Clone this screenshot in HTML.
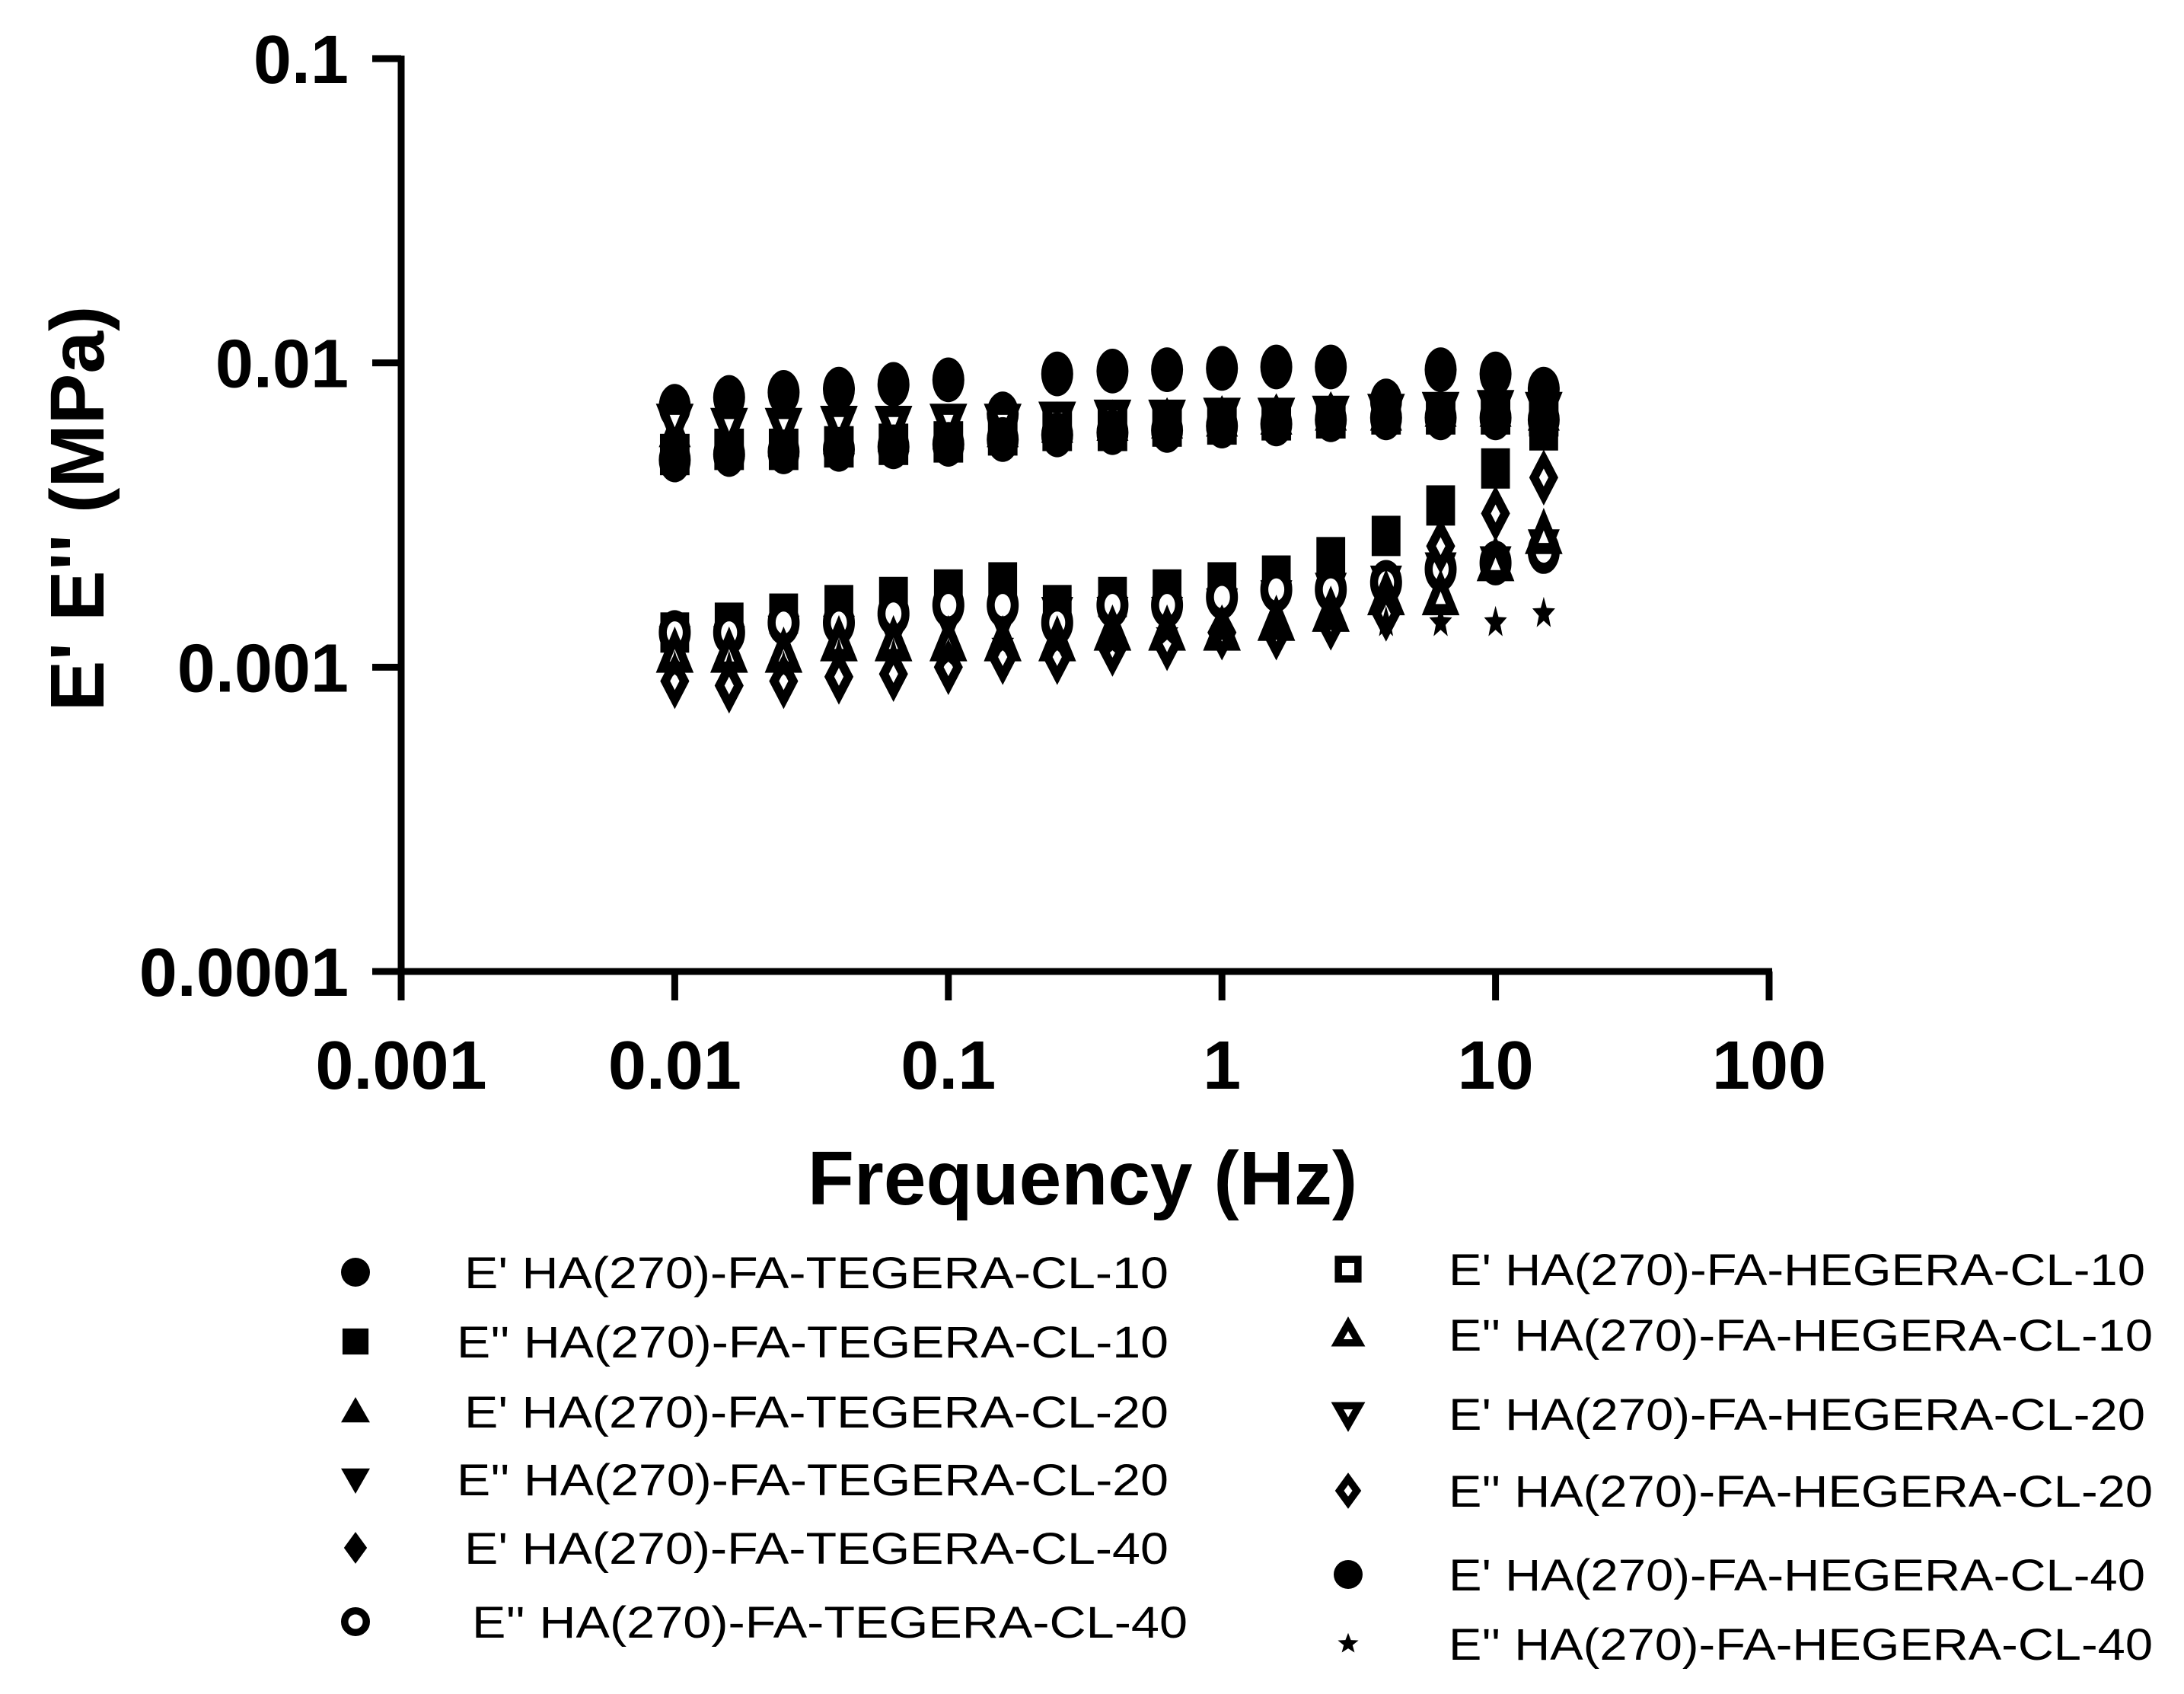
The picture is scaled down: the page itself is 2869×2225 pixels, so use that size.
<!DOCTYPE html>
<html><head><meta charset="utf-8"><style>
html,body{margin:0;padding:0;background:#fff}
svg{display:block;font-family:"Liberation Sans",Arial,sans-serif}
</style></head><body>
<svg id="chart" width="2869" height="2225" viewBox="0 0 2869 2225" xmlns="http://www.w3.org/2000/svg">
<g id="axes"></g>
<g id="marks"></g>
<g id="legend"></g>
</svg>
<script>
const freqs=[0.01,0.0158,0.025,0.0398,0.063,0.1,0.158,0.25,0.398,0.63,1,1.58,2.5,3.98,6.3,10,15];
const seriesNames=["E' HA(270)-FA-TEGERA-CL-10","E'' HA(270)-FA-TEGERA-CL-10","E' HA(270)-FA-TEGERA-CL-20","E'' HA(270)-FA-TEGERA-CL-20","E' HA(270)-FA-TEGERA-CL-40","E''  HA(270)-FA-TEGERA-CL-40","E' HA(270)-FA-HEGERA-CL-10","E'' HA(270)-FA-HEGERA-CL-10","E' HA(270)-FA-HEGERA-CL-20","E'' HA(270)-FA-HEGERA-CL-20","E' HA(270)-FA-HEGERA-CL-40","E'' HA(270)-FA-HEGERA-CL-40"];
const s0=[0.0072,0.0077,0.008,0.0082,0.0085,0.0088,0.0068,0.0092,0.0094,0.0095,0.0096,0.0097,0.0097,0.0075,0.0095,0.0092,0.0082];
const s1=[0.0013,0.0014,0.0015,0.0016,0.0017,0.0018,0.0019,0.0016,0.0017,0.0018,0.0019,0.002,0.0023,0.0027,0.0034,0.0045,0.006];
const s2=[0.006,0.0056,0.0056,0.0057,0.0058,0.0059,0.006,0.0062,0.0063,0.0064,0.0065,0.0066,0.0068,0.0068,0.007,0.007,0.0068];
const s3=[0.0012,0.0012,0.0013,0.0013,0.0013,0.0014,0.0014,0.0015,0.0015,0.0015,0.0016,0.0017,0.0018,0.0019,0.0021,0.0022,0.0025];
const s4=[0.0055,0.0056,0.0057,0.0058,0.0059,0.006,0.006,0.0062,0.0063,0.0064,0.0065,0.0066,0.0067,0.0068,0.0069,0.0069,0.0068];
const s5=[0.0013,0.0013,0.0014,0.0014,0.0015,0.0016,0.0016,0.0014,0.0016,0.0016,0.0017,0.0018,0.0018,0.0019,0.0021,0.0022,0.0024];
const s6=[0.005,0.0052,0.0052,0.0053,0.0054,0.0055,0.0058,0.006,0.006,0.0062,0.0063,0.0065,0.0066,0.0068,0.0068,0.0068,0.0067];
const s7=[0.0011,0.0011,0.0011,0.0012,0.0012,0.0012,0.0012,0.0012,0.0013,0.0013,0.0013,0.0014,0.0015,0.0017,0.0017,0.0022,0.0027];
const s8=[0.0064,0.0062,0.0062,0.0063,0.0063,0.0064,0.0064,0.0065,0.0066,0.0066,0.0067,0.0067,0.0068,0.0069,0.007,0.0071,0.007];
const s9=[0.0009,0.00087,0.0009,0.00093,0.00095,0.001,0.00108,0.00108,0.00115,0.0012,0.0013,0.0013,0.0014,0.0015,0.0025,0.0032,0.0042];
const s10=[0.0048,0.005,0.0051,0.0052,0.0053,0.0054,0.0056,0.0058,0.0059,0.006,0.0062,0.0063,0.0065,0.0066,0.0066,0.0066,0.0065];
const s11=[0.001,0.001,0.001,0.0011,0.0011,0.0011,0.0012,0.0012,0.0012,0.0013,0.0013,0.0013,0.0014,0.0014,0.0014,0.0014,0.0015];
const seriesValues=[s0,s1,s2,s3,s4,s5,s6,s7,s8,s9,s10,s11];
const markerTypes=["circle","square","triangle","invtriangle","diamond","ocircle","osquare","otriangle","oinvtriangle","odiamond","circle","star"];
const xTicks=[0.001,0.01,0.1,1,10,100];
const xTickLabels=["0.001","0.01","0.1","1","10","100"];
const yTicks=[0.0001,0.001,0.01,0.1];
const yTickLabels=["0.0001","0.001","0.01","0.1"];

const NS="http://www.w3.org/2000/svg";
const X0=527,X1=2324,Y0=1276,Y1=77;
const xs=v=>X0+(Math.log10(v)+3)/5*(X1-X0);
const ys=v=>Y0-(Math.log10(v)+4)/3*(Y0-Y1);
function mk(tag,attrs,parent){const e=document.createElementNS(NS,tag);for(const k in attrs)e.setAttribute(k,attrs[k]);parent.appendChild(e);return e;}
const axes=document.getElementById('axes'),marks=document.getElementById('marks'),legend=document.getElementById('legend');

let a=mk('line',{x1:X0,y1:Y1-4,x2:X0,y2:Y0+4,stroke:'#000','stroke-width':9},axes);

a=mk('line',{x1:X0-4,y1:Y0,x2:X1+4,y2:Y0,stroke:'#000','stroke-width':9},axes);

xTicks.forEach((t,i)=>{
  const l=mk('line',{x1:xs(t),y1:Y0,x2:xs(t),y2:Y0+38,stroke:'#000','stroke-width':9},axes);
  
  const tx=mk('text',{x:xs(t),y:1430,'text-anchor':'middle','font-size':90,'font-weight':'bold'},axes);
  tx.textContent=xTickLabels[i];
  
});
yTicks.forEach((t,i)=>{
  const l=mk('line',{x1:X0-38,y1:ys(t),x2:X0,y2:ys(t),stroke:'#000','stroke-width':9},axes);
  
  const tx=mk('text',{x:458,y:ys(t)+32,'text-anchor':'end','font-size':90,'font-weight':'bold'},axes);
  tx.textContent=yTickLabels[i];
  
});
let t=mk('text',{x:1422,y:1582,'text-anchor':'middle','font-size':100,'font-weight':'bold'},axes);
t.textContent='Frequency (Hz)';

t=mk('text',{x:0,y:0,'text-anchor':'middle','font-size':100,'font-weight':'bold',transform:'translate(136,668) rotate(-90)'},axes);
t.textContent="E' E'' (MPa)";


function marker(type,cx,cy,r,sy,parent){
  const g=mk('g',{transform:`translate(${cx.toFixed(1)},${cy.toFixed(1)}) scale(1,${sy})`},parent);
  const filled=!type.startsWith('o');const base=filled?type:type.slice(1);
  const st=filled?{fill:'#000'}:{fill:'#fff',stroke:'#000','stroke-width':r*0.5};
  const rr=filled?r:r*0.75;
  if(base==='circle')mk('circle',Object.assign({cx:0,cy:0,r:rr},st),g);
  else if(base==='square')mk('rect',Object.assign({x:-rr*0.9,y:-rr*0.9,width:rr*1.8,height:rr*1.8},st),g);
  else if(base==='triangle')mk('polygon',Object.assign({points:`0,${-rr} ${rr},${rr*0.75} ${-rr},${rr*0.75}`},st),g);
  else if(base==='invtriangle')mk('polygon',Object.assign({points:`0,${rr} ${rr},${-rr*0.75} ${-rr},${-rr*0.75}`},st),g);
  else if(base==='diamond')mk('polygon',Object.assign({points:`0,${-rr*1.1} ${rr*0.8},0 0,${rr*1.1} ${-rr*0.8},0`},st),g);
  else if(base==='star'){let p=[];for(let k=0;k<10;k++){const ang=-Math.PI/2+k*Math.PI/5;const R=k%2?r*0.32:r*0.75;p.push((R*Math.cos(ang)).toFixed(1)+','+(R*Math.sin(ang)).toFixed(1));}mk('polygon',{points:p.join(' '),fill:'#000'},g);}
  return g;
}
seriesValues.forEach((vals,si)=>{
  vals.forEach((v,i)=>{
    const e=marker(markerTypes[si],xs(freqs[i]),ys(v),21,1.4,marks);
    
    
  });
});
const leftY=[1671,1762,1854,1943,2033,2130];
const rightY=[1667,1753,1857,1958,2068,2159];
seriesNames.forEach((n,i)=>{
  const left=i<6;const cy=left?leftY[i]:rightY[i-6];
  const mx=left?467:1771;
  const e=marker(markerTypes[i],mx,cy,19,1.0,legend);
  
  
  const tx=mk('text',{x:left?(i===5?620:(i===1||i===3?600:610)):1903,y:cy+21,'font-size':58},legend);
  tx.textContent=n;
  tx.setAttribute('textLength',left?(i===5?940:(i===1||i===3?935:925)):(i%2?925:915));
  tx.setAttribute('lengthAdjust','spacingAndGlyphs');
  
  
});
</script>
</body></html>
